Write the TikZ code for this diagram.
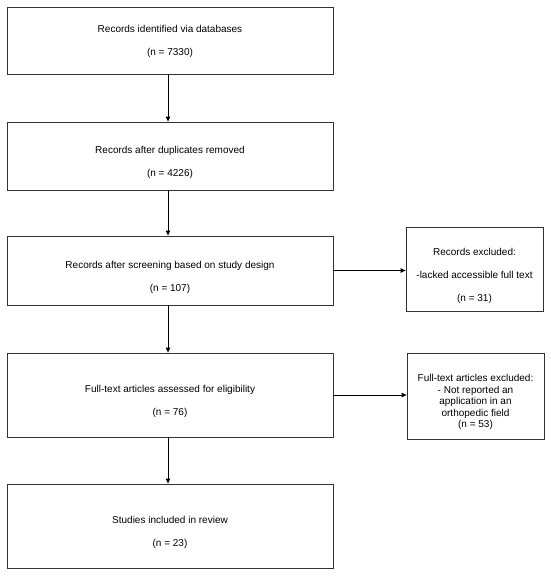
\documentclass[tikz,border=0pt]{standalone}
\usepackage{fontspec}
\setmainfont{Liberation Sans}
\usetikzlibrary{arrows.meta}
\begin{document}
\begin{tikzpicture}[x=1pt,y=1pt,
  box/.style={draw=black!80, line width=0.8pt, inner sep=0pt, minimum width=#1},
  box/.default=326pt,
  txt/.style={font=\fontsize{10}{23}\selectfont, align=center, inner sep=0pt},
  txtsmall/.style={font=\fontsize{10}{11.5}\selectfont, align=center, inner sep=0pt},
  arr/.style={draw=black, line width=0.9pt, -{Triangle[length=5pt,width=4.5pt]}}]
\useasboundingbox (0,0) rectangle (550,578);
% main boxes (centres in px from top converted: y = 578 - ypx)
\node[box, minimum height=67pt] (b1) at (170,537.5) {};
\node[box, minimum height=68pt] (b2) at (170,422) {};
\node[box, minimum height=69pt] (b3) at (170,307.5) {};
\node[box, minimum height=84pt] (b4) at (170,183) {};
\node[box, minimum height=84pt] (b5) at (170,52) {};
% side boxes
\node[box=137pt, minimum height=84pt] (r1) at (474.5,309) {};
\node[box=137pt, minimum height=86pt] (r2) at (475.5,182) {};
% texts
\node[txt] (t1) at (170,536.5) {Records identified via databases\\(n = 7330)};
\node[txt] (t2) at (170,415.5) {Records after duplicates removed\\(n = 4226)};
\node[txt] (t3) at (170,300.5) {Records after screening based on study design\\(n = 107)};
\node[txt] (t4) at (170,177) {Full-text articles assessed for eligibility\\(n = 76)};
\node[txt] (t5) at (170,45.5) {Studies included in review\\(n = 23)};
\node[txt] (tr1) at (474.5,302) {Records excluded:\\-lacked accessible full text\\(n = 31)};
\node[txtsmall] (tr2) at (475.5,176) {Full-text articles excluded:\\- Not reported an\\application in an\\orthopedic field\\(n = 53)};
% connectors
\draw[arr] ([xshift=-2pt]b1.south) -- ([xshift=-2pt]b2.north);
\draw[arr] ([xshift=-2pt]b2.south) -- ([xshift=-2pt]b3.north);
\draw[arr] ([xshift=-2pt]b3.south) -- ([xshift=-2pt]b4.north);
\draw[arr] ([xshift=-2pt]b4.south) -- ([xshift=-2pt]b5.north);
\draw[arr] (b3.east) -- (b3.east -| r1.west);
\draw[arr] (b4.east) -- (b4.east -| r2.west);
\end{tikzpicture}
\end{document}
